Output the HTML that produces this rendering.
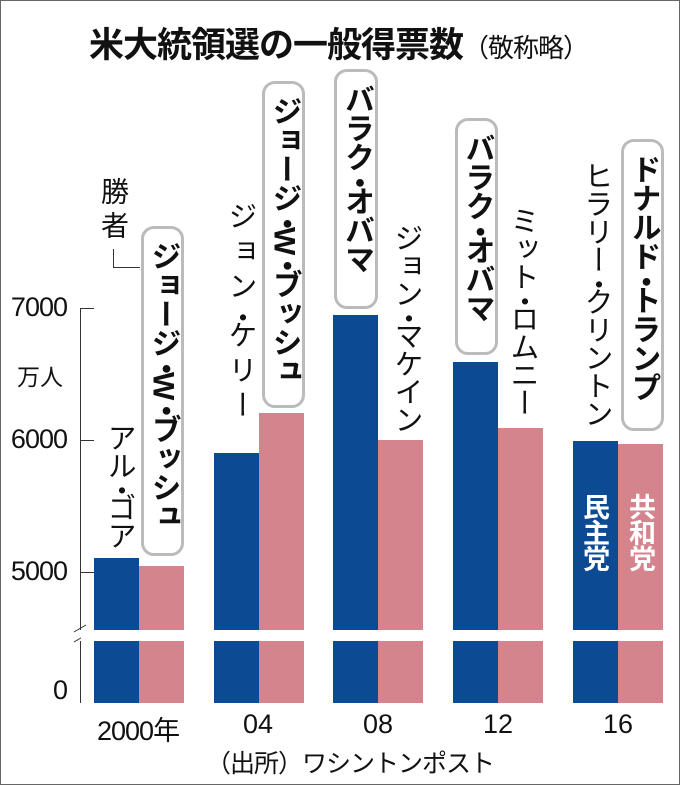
<!DOCTYPE html>
<html><head><meta charset="utf-8"><style>
body{margin:0;background:#fff}
#c{position:relative;width:678px;height:783px;border:1px solid #666;overflow:hidden;font-family:"Liberation Sans","Noto Sans CJK JP",sans-serif;color:#111}
.a{position:absolute}
.v{position:absolute;writing-mode:vertical-rl;font-size:29px;line-height:1;white-space:nowrap;letter-spacing:-1px}
.d{letter-spacing:-12px;margin-top:-3px}
.w{position:absolute;border:3px solid #bbb;border-radius:13px;box-sizing:border-box;display:flex;justify-content:center;padding-top:12px}
.w span.n{writing-mode:vertical-rl;font-size:30px;font-weight:bold;line-height:1;letter-spacing:-1px}
.b{position:absolute;background:#0d4a94}
.r{position:absolute;background:#d4848c}
.t{position:absolute;font-size:27px;text-align:right;width:64px;left:2px;letter-spacing:-1px}
</style></head><body><div id="c">
<div class="a" style="left:88px;top:16px;font-size:35px;font-weight:bold;letter-spacing:-1px">米大統領選の一般得票数<span style="font-weight:normal;font-size:26px">（敬称略）</span></div>

<div class="a" style="left:79px;top:307px;width:1px;height:322px;background:#333"></div>
<div class="a" style="left:79px;top:640px;width:1px;height:62px;background:#333"></div>
<div class="a" style="left:79px;top:307px;width:14px;height:1px;background:#333"></div>
<div class="a" style="left:79px;top:439px;width:14px;height:1px;background:#333"></div>
<div class="a" style="left:79px;top:571px;width:14px;height:1px;background:#333"></div>
<div class="a" style="left:72px;top:627px;width:14px;height:1px;background:#333;transform:rotate(-30deg)"></div>
<div class="a" style="left:72px;top:637px;width:14px;height:1px;background:#333;transform:rotate(-30deg)"></div>
<div class="t" style="top:291px">7000</div>
<div class="t" style="top:423px">6000</div>
<div class="t" style="top:555px">5000</div>
<div class="t" style="top:674px">0</div>
<div class="a" style="left:16px;top:357px;font-size:23px">万人</div>

<div class="b" style="left:93px;top:557px;width:45px;height:145px"></div>
<div class="r" style="left:138px;top:565px;width:45px;height:137px"></div>
<div class="b" style="left:213px;top:452px;width:45px;height:250px"></div>
<div class="r" style="left:258px;top:412px;width:45px;height:290px"></div>
<div class="b" style="left:332px;top:314px;width:45px;height:388px"></div>
<div class="r" style="left:377px;top:439px;width:45px;height:263px"></div>
<div class="b" style="left:452px;top:361px;width:45px;height:341px"></div>
<div class="r" style="left:497px;top:427px;width:45px;height:275px"></div>
<div class="b" style="left:572px;top:440px;width:45px;height:262px"></div>
<div class="r" style="left:617px;top:443px;width:45px;height:259px"></div>
<div class="a" style="left:80px;top:629px;width:598px;height:11px;background:#fff"></div>

<div class="v" style="left:579px;top:492px;color:#fff;font-weight:bold;font-size:27px">民主党</div>
<div class="v" style="left:625px;top:492px;color:#fff;font-weight:bold;font-size:27px">共和党</div>

<div class="v" style="left:103px;top:422px">アル<span class="d">・</span>ゴア</div>
<div class="v" style="left:224px;top:200px;letter-spacing:6px">ジョン<span class="d">・</span>ケリー</div>
<div class="v" style="left:390px;top:222px">ジョン<span class="d">・</span>マケイン</div>
<div class="v" style="left:506px;top:205px">ミット<span class="d">・</span>ロムニー</div>
<div class="v" style="left:580px;top:160px">ヒラリー<span class="d">・</span>クリントン</div>

<div class="w" style="left:140px;top:225px;width:43px;height:330px"><span class="n">ジョージ<span class="d">・</span>W<span class="d">・</span>ブッシュ</span></div>
<div class="w" style="left:261px;top:80px;width:43px;height:327px"><span class="n">ジョージ<span class="d">・</span>W<span class="d">・</span>ブッシュ</span></div>
<div class="w" style="left:333px;top:68px;width:44px;height:240px"><span class="n">バラク<span class="d">・</span>オバマ</span></div>
<div class="w" style="left:454px;top:117px;width:43px;height:237px"><span class="n">バラク<span class="d">・</span>オバマ</span></div>
<div class="w" style="left:620px;top:138px;width:43px;height:292px"><span class="n">ドナルド<span class="d">・</span>トランプ</span></div>

<div class="v" style="left:98px;top:176px;font-size:28px;letter-spacing:6px">勝者</div>
<div class="a" style="left:112px;top:248px;width:1px;height:18px;background:#333"></div>
<div class="a" style="left:112px;top:266px;width:27px;height:1px;background:#333"></div>

<div class="a" style="left:96px;top:708px;font-size:27px;letter-spacing:-1px">2000年</div>
<div class="a" style="left:242px;top:708px;font-size:27px">04</div>
<div class="a" style="left:362px;top:708px;font-size:27px">08</div>
<div class="a" style="left:482px;top:708px;font-size:27px">12</div>
<div class="a" style="left:602px;top:708px;font-size:27px">16</div>
<div class="a" style="left:205px;top:743px;font-size:25px;letter-spacing:-1px">（出所）ワシントンポスト</div>
</div></body></html>
